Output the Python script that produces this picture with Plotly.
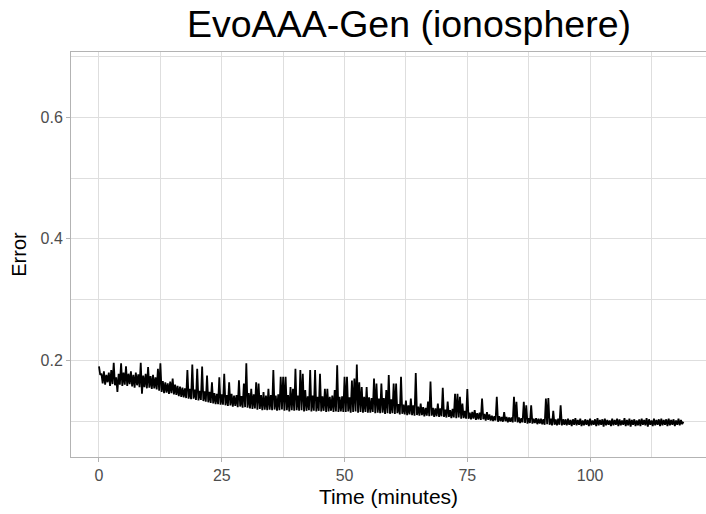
import plotly.graph_objects as go

time_min = [
    0, 0.25, 0.5, 0.75, 1, 1.25, 1.5, 1.75, 2, 2.25, 2.5, 2.75, 3, 3.25, 3.5, 3.75, 4, 4.25, 4.5, 4.75,
    5, 5.25, 5.5, 5.75, 6, 6.25, 6.5, 6.75, 7, 7.25, 7.5, 7.75, 8, 8.25, 8.5, 8.75, 9, 9.25, 9.5, 9.75,
    10, 10.25, 10.5, 10.75, 11, 11.25, 11.5, 11.75, 12, 12.25, 12.5, 12.75, 13, 13.25, 13.5, 13.75, 14, 14.25, 14.5, 14.75,
    15, 15.25, 15.5, 15.75, 16, 16.25, 16.5, 16.75, 17, 17.25, 17.5, 17.75, 18, 18.25, 18.5, 18.75, 19, 19.25, 19.5, 19.75,
    20, 20.25, 20.5, 20.75, 21, 21.25, 21.5, 21.75, 22, 22.25, 22.5, 22.75, 23, 23.25, 23.5, 23.75, 24, 24.25, 24.5, 24.75,
    25, 25.25, 25.5, 25.75, 26, 26.25, 26.5, 26.75, 27, 27.25, 27.5, 27.75, 28, 28.25, 28.5, 28.75, 29, 29.25, 29.5, 29.75,
    30, 30.25, 30.5, 30.75, 31, 31.25, 31.5, 31.75, 32, 32.25, 32.5, 32.75, 33, 33.25, 33.5, 33.75, 34, 34.25, 34.5, 34.75,
    35, 35.25, 35.5, 35.75, 36, 36.25, 36.5, 36.75, 37, 37.25, 37.5, 37.75, 38, 38.25, 38.5, 38.75, 39, 39.25, 39.5, 39.75,
    40, 40.25, 40.5, 40.75, 41, 41.25, 41.5, 41.75, 42, 42.25, 42.5, 42.75, 43, 43.25, 43.5, 43.75, 44, 44.25, 44.5, 44.75,
    45, 45.25, 45.5, 45.75, 46, 46.25, 46.5, 46.75, 47, 47.25, 47.5, 47.75, 48, 48.25, 48.5, 48.75, 49, 49.25, 49.5, 49.75,
    50, 50.25, 50.5, 50.75, 51, 51.25, 51.5, 51.75, 52, 52.25, 52.5, 52.75, 53, 53.25, 53.5, 53.75, 54, 54.25, 54.5, 54.75,
    55, 55.25, 55.5, 55.75, 56, 56.25, 56.5, 56.75, 57, 57.25, 57.5, 57.75, 58, 58.25, 58.5, 58.75, 59, 59.25, 59.5, 59.75,
    60, 60.25, 60.5, 60.75, 61, 61.25, 61.5, 61.75, 62, 62.25, 62.5, 62.75, 63, 63.25, 63.5, 63.75, 64, 64.25, 64.5, 64.75,
    65, 65.25, 65.5, 65.75, 66, 66.25, 66.5, 66.75, 67, 67.25, 67.5, 67.75, 68, 68.25, 68.5, 68.75, 69, 69.25, 69.5, 69.75,
    70, 70.25, 70.5, 70.75, 71, 71.25, 71.5, 71.75, 72, 72.25, 72.5, 72.75, 73, 73.25, 73.5, 73.75, 74, 74.25, 74.5, 74.75,
    75, 75.25, 75.5, 75.75, 76, 76.25, 76.5, 76.75, 77, 77.25, 77.5, 77.75, 78, 78.25, 78.5, 78.75, 79, 79.25, 79.5, 79.75,
    80, 80.25, 80.5, 80.75, 81, 81.25, 81.5, 81.75, 82, 82.25, 82.5, 82.75, 83, 83.25, 83.5, 83.75, 84, 84.25, 84.5, 84.75,
    85, 85.25, 85.5, 85.75, 86, 86.25, 86.5, 86.75, 87, 87.25, 87.5, 87.75, 88, 88.25, 88.5, 88.75, 89, 89.25, 89.5, 89.75,
    90, 90.25, 90.5, 90.75, 91, 91.25, 91.5, 91.75, 92, 92.25, 92.5, 92.75, 93, 93.25, 93.5, 93.75, 94, 94.25, 94.5, 94.75,
    95, 95.25, 95.5, 95.75, 96, 96.25, 96.5, 96.75, 97, 97.25, 97.5, 97.75, 98, 98.25, 98.5, 98.75, 99, 99.25, 99.5, 99.75,
    100, 100.25, 100.5, 100.75, 101, 101.25, 101.5, 101.75, 102, 102.25, 102.5, 102.75, 103, 103.25, 103.5, 103.75, 104, 104.25, 104.5, 104.75,
    105, 105.25, 105.5, 105.75, 106, 106.25, 106.5, 106.75, 107, 107.25, 107.5, 107.75, 108, 108.25, 108.5, 108.75, 109, 109.25, 109.5, 109.75,
    110, 110.25, 110.5, 110.75, 111, 111.25, 111.5, 111.75, 112, 112.25, 112.5, 112.75, 113, 113.25, 113.5, 113.75, 114, 114.25, 114.5, 114.75,
    115, 115.25, 115.5, 115.75, 116, 116.25, 116.5, 116.75, 117, 117.25, 117.5, 117.75, 118, 118.25, 118.5, 118.75, 119,
]

error = [
    0.190, 0.176, 0.178, 0.162, 0.182, 0.160, 0.176, 0.164, 0.180, 0.158, 0.184, 0.161, 0.196, 0.159, 0.172, 0.148, 0.178, 0.160, 0.195, 0.158,
    0.180, 0.160, 0.190, 0.158, 0.178, 0.161, 0.182, 0.157, 0.176, 0.155, 0.180, 0.159, 0.177, 0.156, 0.196, 0.145, 0.175, 0.156, 0.178, 0.154,
    0.189, 0.155, 0.174, 0.153, 0.176, 0.154, 0.172, 0.152, 0.186, 0.150, 0.195, 0.148, 0.166, 0.146, 0.164, 0.147, 0.162, 0.145, 0.165, 0.146,
    0.170, 0.144, 0.160, 0.143, 0.158, 0.141, 0.157, 0.140, 0.155, 0.139, 0.154, 0.138, 0.184, 0.137, 0.153, 0.136, 0.193, 0.137, 0.152, 0.135,
    0.186, 0.134, 0.150, 0.135, 0.190, 0.133, 0.149, 0.132, 0.175, 0.131, 0.148, 0.130, 0.164, 0.129, 0.146, 0.128, 0.145, 0.128, 0.172, 0.127,
    0.144, 0.127, 0.178, 0.126, 0.143, 0.125, 0.164, 0.126, 0.145, 0.124, 0.142, 0.125, 0.143, 0.123, 0.167, 0.124, 0.141, 0.122, 0.162, 0.123,
    0.195, 0.122, 0.146, 0.121, 0.153, 0.120, 0.144, 0.121, 0.164, 0.119, 0.162, 0.120, 0.143, 0.118, 0.148, 0.119, 0.142, 0.118, 0.153, 0.119,
    0.143, 0.118, 0.184, 0.119, 0.142, 0.117, 0.144, 0.118, 0.173, 0.119, 0.173, 0.117, 0.173, 0.118, 0.143, 0.116, 0.156, 0.118, 0.153, 0.117,
    0.186, 0.118, 0.142, 0.117, 0.184, 0.118, 0.178, 0.116, 0.151, 0.117, 0.141, 0.118, 0.184, 0.116, 0.142, 0.117, 0.184, 0.116, 0.140, 0.117,
    0.178, 0.116, 0.141, 0.117, 0.153, 0.115, 0.153, 0.116, 0.140, 0.117, 0.142, 0.115, 0.151, 0.116, 0.192, 0.115, 0.140, 0.116, 0.141, 0.115,
    0.173, 0.115, 0.173, 0.116, 0.139, 0.114, 0.167, 0.115, 0.170, 0.116, 0.193, 0.114, 0.164, 0.115, 0.156, 0.114, 0.140, 0.115, 0.156, 0.114,
    0.139, 0.114, 0.138, 0.115, 0.170, 0.113, 0.162, 0.114, 0.137, 0.113, 0.162, 0.114, 0.138, 0.112, 0.151, 0.113, 0.176, 0.112, 0.136, 0.113,
    0.162, 0.112, 0.162, 0.113, 0.128, 0.111, 0.173, 0.112, 0.127, 0.111, 0.134, 0.110, 0.126, 0.111, 0.137, 0.110, 0.126, 0.109, 0.179, 0.110,
    0.124, 0.109, 0.129, 0.110, 0.123, 0.108, 0.122, 0.109, 0.132, 0.108, 0.165, 0.109, 0.122, 0.107, 0.121, 0.108, 0.129, 0.107, 0.121, 0.108,
    0.155, 0.107, 0.119, 0.106, 0.132, 0.107, 0.118, 0.105, 0.120, 0.106, 0.145, 0.105, 0.145, 0.106, 0.140, 0.104, 0.129, 0.105, 0.117, 0.104,
    0.153, 0.104, 0.114, 0.103, 0.115, 0.104, 0.118, 0.102, 0.113, 0.103, 0.114, 0.102, 0.137, 0.103, 0.112, 0.101, 0.115, 0.102, 0.111, 0.101,
    0.109, 0.100, 0.108, 0.101, 0.140, 0.099, 0.108, 0.100, 0.107, 0.099, 0.115, 0.100, 0.107, 0.098, 0.106, 0.099, 0.106, 0.098, 0.140, 0.099,
    0.132, 0.098, 0.106, 0.097, 0.105, 0.098, 0.132, 0.097, 0.126, 0.096, 0.105, 0.097, 0.126, 0.096, 0.104, 0.097, 0.105, 0.095, 0.104, 0.096,
    0.104, 0.095, 0.103, 0.094, 0.137, 0.095, 0.138, 0.094, 0.104, 0.093, 0.117, 0.094, 0.103, 0.093, 0.104, 0.094, 0.126, 0.093, 0.103, 0.094,
    0.103, 0.093, 0.104, 0.094, 0.102, 0.092, 0.103, 0.094, 0.105, 0.093, 0.102, 0.094, 0.104, 0.092, 0.101, 0.093, 0.103, 0.094, 0.102, 0.092,
    0.104, 0.093, 0.101, 0.094, 0.103, 0.092, 0.105, 0.093, 0.102, 0.094, 0.103, 0.091, 0.104, 0.093, 0.102, 0.094, 0.101, 0.092, 0.104, 0.093,
    0.102, 0.094, 0.104, 0.092, 0.103, 0.093, 0.101, 0.094, 0.105, 0.092, 0.102, 0.093, 0.104, 0.091, 0.102, 0.094, 0.103, 0.092, 0.101, 0.093,
    0.103, 0.092, 0.104, 0.094, 0.102, 0.093, 0.105, 0.091, 0.103, 0.094, 0.101, 0.092, 0.104, 0.093, 0.102, 0.094, 0.103, 0.092, 0.104, 0.093,
    0.102, 0.094, 0.103, 0.092, 0.104, 0.093, 0.102, 0.094, 0.103, 0.092, 0.101, 0.094, 0.104, 0.093, 0.102, 0.095, 0.099,
]

x_ticks = [0, 25, 50, 75, 100]
x_minor = [12.5, 37.5, 62.5, 87.5, 112.5]
y_ticks = [0.2, 0.4, 0.6]
y_minor = [0.1, 0.3, 0.5, 0.7]

GRID = "#dedede"
BORDER = "#b3b3b3"
TICKTXT = "#4d4d4d"
FONT = "Liberation Sans, Arial, sans-serif"

fig = go.Figure()
fig.add_trace(go.Scatter(
    x=time_min, y=error, mode="lines",
    line=dict(color="black", width=1.8),
    showlegend=False, hoverinfo="skip",
))

fig.update_layout(
    width=706, height=514,
    margin=dict(l=71, r=0, t=52, b=57, autoexpand=False),
    paper_bgcolor="white", plot_bgcolor="white",
    font=dict(family=FONT),
    title=dict(
        text="EvoAAA-Gen (ionosphere)",
        font=dict(size=37.5, color="black", family=FONT),
        x=(409 - 71) / 635, xref="paper", xanchor="center",
        y=1 - 24 / 514, yref="container", yanchor="middle",
    ),
)

fig.update_xaxes(
    range=[-5.70, 123.6], automargin=False,
    tickvals=x_ticks, ticktext=[str(v) for v in x_ticks],
    showgrid=True, gridcolor=GRID, gridwidth=1,
    minor=dict(tickvals=x_minor, showgrid=True, gridcolor=GRID, gridwidth=0.6, ticks=""),
    showline=True, linecolor=BORDER, linewidth=1, mirror=True,
    ticks="outside", ticklen=4, tickcolor=BORDER, tickwidth=1,
    tickfont=dict(size=16, color=TICKTXT, family=FONT),
    title=dict(text="Time (minutes)", font=dict(size=21, color="black", family=FONT), standoff=6),
    zeroline=False,
)
fig.update_yaxes(
    range=[0.041, 0.7073], automargin=False,
    tickvals=y_ticks, ticktext=[f"{v:.1f}" for v in y_ticks],
    showgrid=True, gridcolor=GRID, gridwidth=1,
    minor=dict(tickvals=y_minor, showgrid=True, gridcolor=GRID, gridwidth=0.6, ticks=""),
    showline=True, linecolor=BORDER, linewidth=1, mirror=True,
    ticks="outside", ticklen=4, tickcolor=BORDER, tickwidth=1,
    tickfont=dict(size=16, color=TICKTXT, family=FONT),
    title=dict(text="Error", font=dict(size=20, color="black", family=FONT), standoff=8),
    zeroline=False,
)

fig.write_html(
    "out.html",
    config={"displayModeBar": False},
    post_script="document.body.style.margin='0';document.body.style.overflow='hidden';",
)
